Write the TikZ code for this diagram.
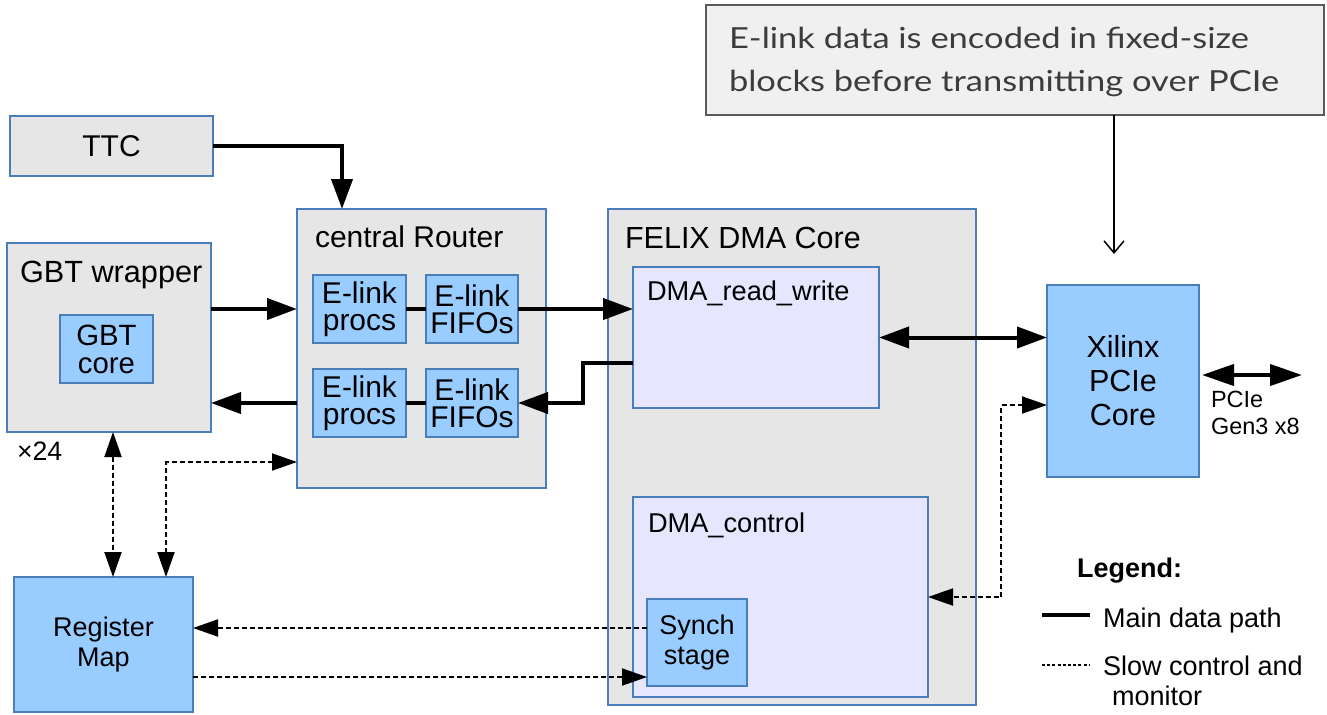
\documentclass[tikz,border=0pt]{standalone}
\usepackage{fontspec}
\setmainfont{Liberation Sans}
\newfontfamily\notefont[FakeStretch=1.19]{Lato}
\usetikzlibrary{arrows.meta,calc}

\newcommand\fsz[2]{\fontsize{#1}{#2}\selectfont}

\definecolor{edge}{HTML}{4A7EBB}
\definecolor{panel}{HTML}{E6E6E6}
\definecolor{unit}{HTML}{99CCFF}
\definecolor{lav}{HTML}{E6E6FF}
\definecolor{notefill}{HTML}{F0F0F0}
\definecolor{noteedge}{HTML}{5A5A5A}
\definecolor{notetext}{HTML}{3C3C3C}

% one drawing unit = 0.75pt; y grows downwards
\tikzset{
  rect/.style n args={4}{at={({(#1+#3)/2},{(#2+#4)/2})},
    minimum width={(#3-#1)*0.75pt}, minimum height={(#4-#2)*0.75pt}},
  box/.style={draw=edge, line width=1.5pt, inner sep=0pt, outer sep=0pt},
  panelbox/.style={box, fill=panel},
  unitbox/.style={box, fill=unit, align=center},
  lavbox/.style={box, fill=lav},
  notebox/.style={draw=noteedge, fill=notefill, line width=1.1pt, inner sep=0pt, outer sep=0pt},
  lbl/.style={anchor=base west, inner sep=0pt, outer sep=0pt},
  dtip/.tip={Triangle[length=22.5pt, width=15.75pt]},
  ctip/.tip={Triangle[length=18.75pt, width=12.75pt]},
  ptip/.tip={Triangle[length=24pt, width=15.75pt]},
  data/.style={line width=3pt},
  ctl/.style={line width=1.5pt, dash pattern=on 3.75pt off 2.25pt},
}

\begin{document}
\begin{tikzpicture}[x=0.75pt, y=-0.75pt]
\path[use as bounding box, fill=white] (0,0) rectangle (1327,714);

% ---- note at the top right (multi-line labels are placed by their last baseline)
\node[notebox, rect={706}{5}{1324}{115}] (note) {};
\node[lbl, align=left, text=notetext, font=\notefont\fsz{21.75pt}{32.25pt}] (notetxt) at (729,91)
  {E-link data is encoded in fixed-size\\blocks before transmitting over PCIe};

% ---- left column
\node[panelbox, rect={10}{116}{213}{176}, font=\fsz{22.5pt}{27pt}] (ttc) {TTC};
\node[panelbox, rect={7}{243}{211}{432}] (gbtw) {};
\node[lbl, font=\fsz{23pt}{27pt}] (gbtwl) at (20,282) {GBT wrapper};
\node[unitbox, rect={60}{315}{153}{383}, font=\fsz{22pt}{21pt}] (gbtc) {GBT\\core};
\node[lbl, font=\fsz{20pt}{24pt}] (mult) at (17,460) {×24};
\node[unitbox, rect={14}{577}{193}{712}, font=\fsz{20.25pt}{22.5pt}] (regmap) {Register\\Map};

% ---- central router
\node[panelbox, rect={297}{209}{546}{488}] (router) {};
\node[lbl, font=\fsz{22.5pt}{27pt}] (routerl) at (315,247) {central Router};
\node[unitbox, rect={313}{275}{406}{343}, font=\fsz{22.5pt}{20.25pt}] (procsA) {E-link\\procs};
\node[unitbox, rect={426}{275}{518}{343}, font=\fsz{22.5pt}{20.25pt}] (fifoA) {E-link\\FIFOs};
\node[unitbox, rect={313}{369}{406}{437}, font=\fsz{22.5pt}{20.25pt}] (procsB) {E-link\\procs};
\node[unitbox, rect={426}{369}{518}{437}, font=\fsz{22.5pt}{20.25pt}] (fifoB) {E-link\\FIFOs};

% ---- DMA core
\node[panelbox, rect={608}{209}{976}{705}] (felix) {};
\node[lbl, font=\fsz{22.9pt}{27pt}] (felixl) at (625,248) {FELIX DMA Core};
\node[lavbox, rect={633}{267}{879}{408}] (dmarw) {};
\node[lbl, font=\fsz{20.4pt}{24pt}] (dmarwl) at (647,300) {DMA\_read\_write};
\node[lavbox, rect={633}{497}{928}{697}] (dmactl) {};
\node[lbl, font=\fsz{20.4pt}{24pt}] (dmactll) at (648,532) {DMA\_control};
\node[unitbox, rect={647}{599}{747}{686}, font=\fsz{20.25pt}{22.5pt}] (synch) {Synch\\stage};

% ---- PCIe core
\node[unitbox, rect={1047}{285}{1199}{477}, font=\fsz{22.9pt}{25.5pt}] (xil) {Xilinx\\PCIe\\Core};
\node[lbl, align=left, font=\fsz{17.6pt}{20.25pt}] (pciel) at (1211,434) {PCIe\\Gen3 x8};
\coordinate (pcieend) at (1302,375);

% ---- main data path
\draw[data, -dtip] (ttc.east) -| ($(router.north west)+(45,0)$);
\draw[data, -dtip] (procsA.west -| gbtw.east) -- (procsA.west -| router.west);
\draw[data] (procsA.east) -- (fifoA.west);
\draw[data, -dtip] (fifoA.east) -- (fifoA.east -| dmarw.west);
\draw[data, -dtip] ($(dmarw.south west)+(0,-45)$) -- ++(-50,0) |- (fifoB.east);
\draw[data] (procsB.east) -- (fifoB.west);
\draw[data, -dtip] (procsB.west -| router.west) -- (procsB.west -| gbtw.east);
\draw[data, dtip-dtip] (dmarw.east) -- (dmarw.east -| xil.west);
\draw[data, ptip-ptip] ($(xil.east |- pcieend)+(3,0)$) -- (pcieend);

% ---- slow control and monitor
\draw[ctl, ctip-ctip] ($(gbtw.south)+(4,0)$) coordinate (gv) -- (gv |- regmap.north);
\draw[ctl, ctip-ctip] ($(router.south west)+(0,-26)$) -| ($(regmap.north west)+(152,0)$);
\draw[ctl, -ctip] ($(synch.west)+(0,-14.5)$) coordinate (sa) -- (sa -| regmap.east);
\coordinate (sb) at ($(synch.west)+(0,34.5)$);
\draw[ctl, -ctip] (sb -| regmap.east) -- (sb);
\draw[ctl, ctip-ctip] ($(xil.west)+(0,24)$) -- ++(-46,0) |- (dmactl.east);

% ---- note pointer
\coordinate (notetip) at (1114,254);
\draw[line width=1.1pt, -{Straight Barb[length=9pt, width=15pt, line width=1.1pt]}]
  (note.south -| notetip) -- (notetip);

% ---- legend
\node[lbl, font=\bfseries\fsz{20.25pt}{24pt}] (legend) at (1077,577) {Legend:};
\coordinate (lsA) at (1042,615);
\coordinate (lsB) at (1090,615);
\draw[line width=2.6pt] (lsA) -- (lsB);
\node[lbl, font=\fsz{20.25pt}{24pt}] (legdata) at (1103,627) {Main data path};
\coordinate (ldA) at (1042,665);
\coordinate (ldB) at (1090,665);
\draw[line width=1pt, dash pattern=on 2.25pt off 1.65pt] (ldA) -- (ldB);
\node[lbl, align=left, font=\fsz{20.25pt}{22.5pt}] (legctl) at (1103,705)
  {Slow control and\\\hspace*{6.75pt}monitor};
\end{tikzpicture}
\end{document}
